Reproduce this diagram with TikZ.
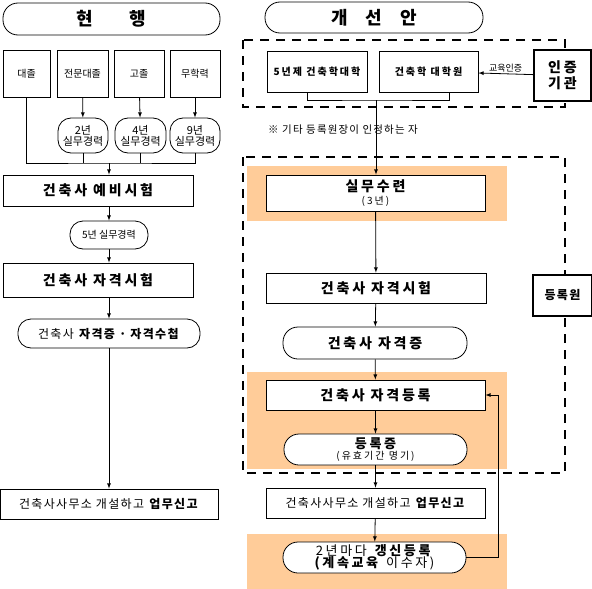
\documentclass[tikz,border=0pt]{standalone}
\usepackage{fontspec}
\setmainfont{Noto Sans CJK KR}
\newfontfamily\widefont[LetterSpace=20]{Noto Sans CJK KR}
\newfontfamily\loosefont[LetterSpace=11]{Noto Sans CJK KR}
\usepackage{tikz}
\usetikzlibrary{arrows,positioning,calc}
\usepackage{xcolor}
\definecolor{trackcolor}{RGB}{255, 204, 153}

\begin{document}
\begin{tikzpicture}[x=1pt, y=-1pt,
    box/.style={rectangle, draw, line width=0.8pt, fill=white, inner sep=0pt, align=center, font=\fontsize{10}{12}\selectfont},
    pill/.style={rectangle, draw, line width=0.8pt, fill=white, rounded corners=13pt, inner sep=0pt, align=center, font=\fontsize{10}{11}\selectfont},
    stepbox/.style={box, font=\fontsize{14}{16}\selectfont\widefont\bfseries},
    heading/.style={pill, rounded corners=15pt, font=\fontsize{18}{20}\selectfont\bfseries},
    authority/.style={box, line width=2pt, font=\fontsize{14}{16}\selectfont\widefont\bfseries},
    zone/.style={dashed, line width=1.6pt, dash pattern=on 9pt off 7pt},
    arrow/.style={-latex, line width=0.8pt}
]
    \useasboundingbox (0,0) rectangle (592,589);

    % Orange bands
    \fill[trackcolor] (247,166) rectangle (507,221);
    \fill[trackcolor] (247,372) rectangle (507,469);
    \fill[trackcolor] (247,534) rectangle (507,589);

    % Dashed zones
    \draw[zone] (243,40) rectangle (565,107);
    \draw[zone] (243,157) rectangle (565,473);

    % Current system
    \node[heading, minimum width=217pt, minimum height=32pt] (now) at (111.5,19) {현\hspace{2em}행};

    \node[box, minimum width=47pt, minimum height=47pt] (uni) at (26.5,74) {대졸};
    \node[box, minimum width=51pt, minimum height=47pt] (college) at (82.5,74) {전문대졸};
    \node[box, minimum width=50pt, minimum height=47pt] (high) at (139,74) {고졸};
    \node[box, minimum width=50pt, minimum height=47pt] (none) at (195,74) {무학력};

    \node[pill, minimum width=50pt, minimum height=35pt, font=\fontsize{11}{11}\selectfont] (exp2) at (83,135.5) {2년\\실무경력};
    \node[pill, minimum width=51pt, minimum height=35pt, font=\fontsize{11}{11}\selectfont] (exp4) at (140.5,135.5) {4년\\실무경력};
    \node[pill, minimum width=50pt, minimum height=35pt, font=\fontsize{11}{11}\selectfont] (exp9) at (195,135.5) {9년\\실무경력};

    \coordinate (merge) at (109,163);

    \node[stepbox, minimum width=190pt, minimum height=31pt] (prelim) at (98,190.5) {건축사 예비시험};
    \node[pill, minimum width=78pt, minimum height=28pt, font=\fontsize{10}{11}\selectfont] (exp5) at (109,235) {5년 실무경력};
    \node[stepbox, minimum width=190pt, minimum height=34pt] (exam) at (98,280) {건축사 자격시험};
    \node[pill, minimum width=182pt, minimum height=29pt, font=\fontsize{12}{14}\selectfont\loosefont] (license) at (109,333.5) {건축사 \textbf{자격증 · 자격수첩}};
    \node[box, minimum width=218pt, minimum height=30pt, font=\fontsize{12}{14}\selectfont\loosefont] (office) at (109,504) {건축사사무소 개설하고 \textbf{업무신고}};

    % Proposed system
    \node[heading, minimum width=218pt, minimum height=31pt] (plan) at (374,17.5) {개\hspace{1em}선\hspace{1em}안};

    \node[box, minimum width=100pt, minimum height=41pt, font=\fontsize{10}{12}\selectfont\widefont\bfseries] (school) at (317,71.5) {5년제 건축학대학};
    \node[box, minimum width=99pt, minimum height=41pt, font=\fontsize{10}{12}\selectfont\widefont\bfseries] (grad) at (428.5,71.5) {건축학 대학원};
    \node[authority, minimum width=57pt, minimum height=51pt] (accr) at (562.5,75.5) {인증\\기관};

    \coordinate (join) at (376,100);
    \node[anchor=west, inner sep=0pt, font=\fontsize{10.5}{12}\selectfont\loosefont] (note) at (268,130) {※ 기타 등록원장이 인정하는 자};

    \node[box, minimum width=219pt, minimum height=36pt, font=\fontsize{14}{14}\selectfont\widefont\bfseries] (train) at (375.5,193) {실무수련\\[-1pt]{\fontsize{10}{11}\selectfont\mdseries(3년)}};
    \node[stepbox, minimum width=220pt, minimum height=30pt] (exam2) at (376,288) {건축사 자격시험};
    \node[pill, minimum width=184pt, minimum height=32pt, rounded corners=15pt, font=\fontsize{14}{16}\selectfont\widefont\bfseries] (cert) at (375,343) {건축사 자격증};
    \node[stepbox, minimum width=219pt, minimum height=30pt] (regi) at (375.5,395) {건축사 자격등록};
    \node[pill, minimum width=183pt, minimum height=31pt, rounded corners=15pt, font=\fontsize{13}{12}\selectfont\widefont\bfseries] (card) at (375.5,449.5) {등록증\\[-1pt]{\fontsize{10}{10}\selectfont\mdseries(유효기간 명기)}};
    \node[box, minimum width=219pt, minimum height=30pt, font=\fontsize{12}{14}\selectfont\loosefont] (office2) at (375.5,503) {건축사사무소 개설하고 \textbf{업무신고}};
    \node[pill, minimum width=183pt, minimum height=31pt, rounded corners=15pt, font=\fontsize{13}{14}\selectfont\widefont] (renew) at (374.5,557.5) {2년마다 \textbf{갱신등록}\\[-2pt]\textbf{(계속교육} 이수자)};

    \node[authority, minimum width=59pt, minimum height=41pt, font=\fontsize{12}{14}\selectfont\loosefont\bfseries] (board) at (562.5,295.5) {등록원};

    % Arrows, current system
    \draw[line width=0.8pt] (uni.south) |- (merge) -| (exp9.south);
    \draw[line width=0.8pt] (exp2.south) -- (exp2.south |- merge);
    \draw[line width=0.8pt] (exp4.south) -- (exp4.south |- merge);
    \draw[arrow] (college) -- (exp2);
    \draw[arrow] (high) -- (exp4);
    \draw[arrow] (none) -- (exp9);
    \draw[arrow] (merge) -- (merge |- prelim.north);
    \draw[arrow] (prelim.south -| exp5) -- (exp5);
    \draw[arrow] (exp5) -- (exp5 |- exam.north);
    \draw[arrow] (exam.south -| license) -- (license);
    \draw[arrow] (license) -- (office);

    % Arrows, proposed system
    \draw[line width=0.8pt] ([xshift=-10pt]school.south) |- (join) -| ([xshift=20.5pt]grad.south);
    \draw[arrow] (accr) -- node[above, inner sep=1.5pt, font=\fontsize{9}{9}\selectfont] (acclabel) {교육인증} (grad);
    \draw[arrow] (join) -- (join |- train.north);
    \draw[arrow] (train) -- (exam2);
    \draw[arrow] (exam2) -- (cert);
    \draw[arrow] (cert) -- (regi);
    \draw[arrow] (regi) -- (card);
    \draw[arrow] (card) -- (office2);
    \draw[arrow] (office2) -- (renew);
    \draw[arrow] (renew.east) -- ++(32,0) |- (regi.east);
\end{tikzpicture}
\end{document}
